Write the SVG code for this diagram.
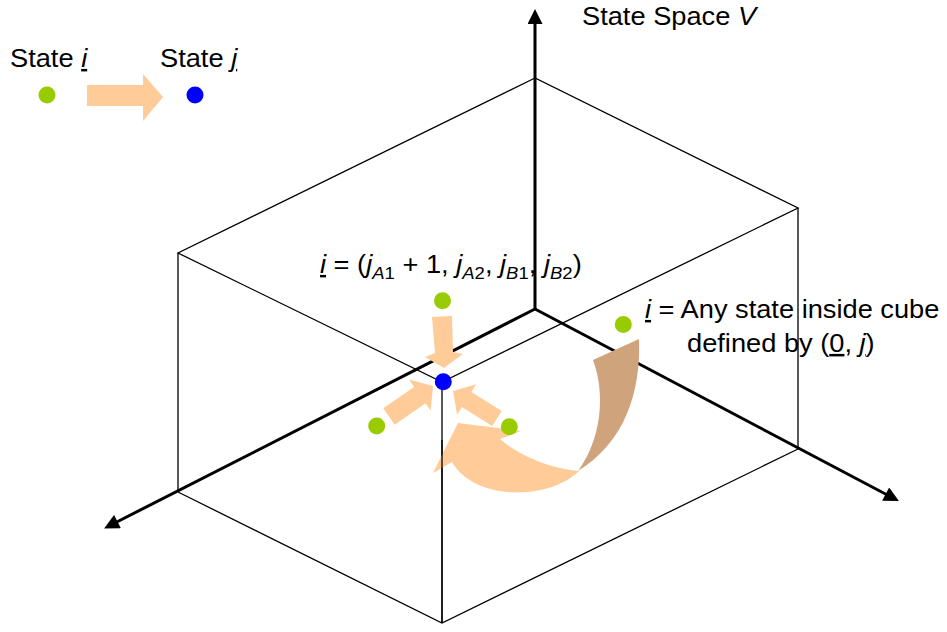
<svg xmlns="http://www.w3.org/2000/svg" width="947" height="632" viewBox="0 0 947 632">
<style>
.t{font-family:"Liberation Sans",Arial,sans-serif;font-size:25px;fill:#000}
.it{font-style:italic}
.u{text-decoration:underline}
.sub{font-size:17px}
.edge{fill:none;stroke:#000;stroke-width:1.3;stroke-linejoin:miter}
.axis{fill:none;stroke:#000;stroke-width:3}
.green{fill:#99CC00}
.blue{fill:#0000FF}
.peach{fill:#FFCC99}
.brown{fill:#CFA37B}
</style>
<defs>
<marker id="ah" viewBox="0 0 10 10" refX="2" refY="5" markerWidth="5.5" markerHeight="5" markerUnits="strokeWidth" orient="auto">
<path d="M0,0 L10,5 L0,10 Z" fill="#000"/>
</marker>
</defs>
<rect width="947" height="632" fill="#fff"/>

<g id="cube">
<path class="edge" d="M535,78 L178,253 L442,382 L798,208 Z"/>
<path class="edge" d="M178,253 L178,492 M442,382 L442,623 M798,208 L798,449"/>
<path class="edge" d="M178,492 L442,623 L798,449"/>
</g>

<g id="connectors">
<line class="axis" x1="535" y1="309" x2="535" y2="21" marker-end="url(#ah)"/>
<line class="axis" x1="535" y1="309" x2="114.8" y2="523" marker-end="url(#ah)"/>
<line class="axis" x1="535" y1="309" x2="888.3" y2="495.5" marker-end="url(#ah)"/>
<polygon id="legend-arrow" class="peach" points="87,85 143,85 143,74 163,97 143,121 143,106 87,106"/>
<polygon id="arrow-top" class="peach" points="432,317 452,316 453,352 463,354 444,368 425,357 435,353"/>
<polygon id="arrow-left" class="peach" points="383.3,408.3 414.1,386.9 409,379.5 433,386 430.6,410.7 425.5,403.3 394.7,424.7"/>
<polygon id="arrow-right" class="peach" points="501.8,410.9 471.4,391.9 476.1,384.2 453,391 457.1,414.8 461.8,407.1 492.2,426.1"/>
<g id="curved-arrow">
<path class="peach" d="M458,423 L521,431 L500,439 C518,455 550,469 579,471 C550,500 475,502 452,462 L433,473 Z"/>
<path class="brown" d="M593,360 L639,339 C641,392 625,442 578,471 C601,440 606,395 593,360 Z"/>
</g>
</g>

<g id="front-edge">
<path class="edge" d="M442,440 L442,623"/>
</g>

<g id="legend-i">
<text class="t" transform="translate(10,67) scale(1.09,1)">State <tspan class="it u">i</tspan></text>
<circle class="green" cx="47" cy="95" r="8.5"/>
</g>
<g id="legend-j">
<text class="t" transform="translate(160,67) scale(1.09,1)">State <tspan class="it u">j</tspan></text>
<circle class="blue" cx="195" cy="95" r="8.5"/>
</g>

<g id="title">
<text class="t" transform="translate(582,25) scale(1.09,1)">State Space <tspan class="it">V</tspan></text>
</g>

<g id="formula">
<text class="t" transform="translate(320,273) scale(1.09,1)"><tspan class="it u">i</tspan> = (<tspan class="it">j</tspan><tspan class="sub" dy="6"><tspan class="it">A</tspan>1</tspan><tspan dy="-6"> + 1, </tspan><tspan class="it">j</tspan><tspan class="sub" dy="6"><tspan class="it">A</tspan>2</tspan><tspan dy="-6">, </tspan><tspan class="it">j</tspan><tspan class="sub" dy="6"><tspan class="it">B</tspan>1</tspan><tspan dy="-6">, </tspan><tspan class="it">j</tspan><tspan class="sub" dy="6"><tspan class="it">B</tspan>2</tspan><tspan dy="-6">)</tspan></text>
</g>

<g id="cube-note">
<text class="t" transform="translate(645,318) scale(1.09,1)"><tspan class="it u">i</tspan> = Any state inside cube</text>
<text class="t" transform="translate(687,352) scale(1.09,1)">defined by (<tspan class="u">0</tspan>, <tspan class="it u">j</tspan>)</text>
</g>

<g id="state-top"><circle class="green" cx="442.5" cy="300.7" r="8.5"/></g>
<g id="state-left"><circle class="green" cx="376.7" cy="426" r="8.5"/></g>
<g id="state-right"><circle class="green" cx="509.3" cy="426.7" r="8.5"/></g>
<g id="state-far"><circle class="green" cx="623.3" cy="324.5" r="8.5"/></g>
<g id="state-j"><circle class="blue" cx="443.3" cy="381.7" r="8.5"/></g>
</svg>
